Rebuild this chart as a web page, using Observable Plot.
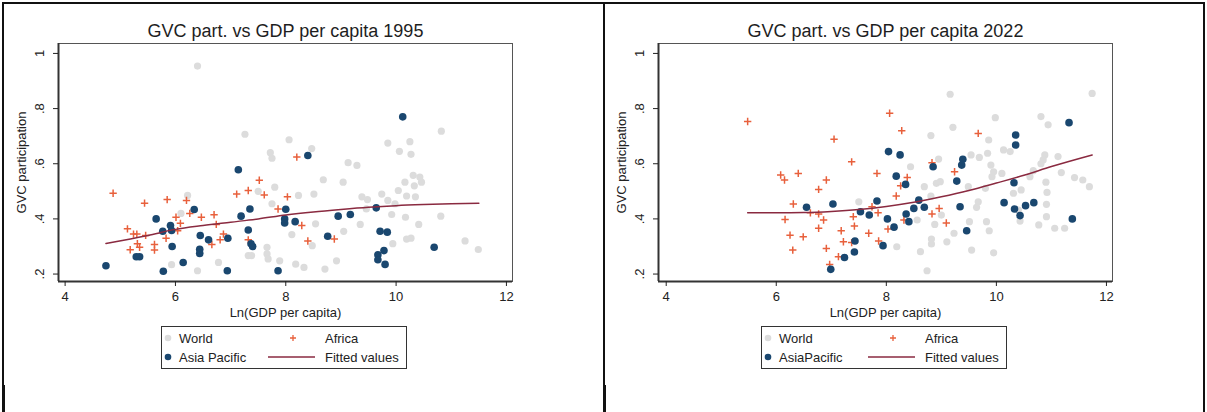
<!DOCTYPE html>
<html><head><meta charset="utf-8">
<script src="https://cdn.jsdelivr.net/npm/d3@7"></script>
<script src="https://cdn.jsdelivr.net/npm/@observablehq/plot@0.6"></script>
<style>
body{margin:0;background:#fff;font-family:"Liberation Sans",Arial,sans-serif;}
#page{position:relative;width:1207px;height:412px;overflow:hidden;background:#fff;}
.panel{position:absolute;top:0;width:600px;height:412px;}
.panel svg.plotsvg{position:absolute;left:0;top:0;}
.legend{position:absolute;left:161px;top:326px;width:244px;height:41px;border:1px solid #333;font-size:13px;color:#222;background:#fff;}
.item{position:absolute;white-space:nowrap;line-height:15px;height:15px;}
.sym{position:absolute;}
.rule{position:absolute;background:#111;}
</style></head><body><div id="page"></div>
<script>
// ---------- shared axis data ----------
const xTicks = [4, 6, 8, 10, 12];
const yTicks = [0.2, 0.4, 0.6, 0.8, 1];
const yTickLabels = [".2", ".4", ".6", ".8", "1"];
const xTitle = "Ln(GDP per capita)";
const yTitle = "GVC participation";
const legendLabels1995 = ["World", "Africa", "Asia Pacific", "Fitted values"];
const legendLabels2022 = ["World", "Africa", "AsiaPacific", "Fitted values"];
const titles = ["GVC part. vs GDP per capita 1995", "GVC part. vs GDP per capita 2022"];

// ---------- 1995 ----------
const world1995X = [6.4,7.26,7.72,7.75,8.06,7.80,7.75,6.22,6.1,6.78,6.4,5.93,7.32,7.38,7.66,7.66,7.68,7.89,7.5,8.47,9.85,10.06,10.25,10.27,10.82,9.13,9.29,8.68,9.04,8.51,8.23,9.38,9.48,9.74,10.04,10.16,10.31,10.43,10.46,10.33,10.19,10.35,9.85,9.98,9.92,8.54,9.35,10.17,10.41,10.81,8.11,9.05,8.48,9.94,10.19,10.27,11.25,11.49,8.92,8.18,8.33,8.71,9.46];
const world1995Y = [0.954,0.707,0.64,0.62,0.687,0.515,0.455,0.485,0.42,0.242,0.212,0.234,0.267,0.267,0.297,0.273,0.255,0.248,0.5,0.655,0.675,0.645,0.68,0.634,0.718,0.604,0.594,0.542,0.533,0.49,0.485,0.48,0.47,0.49,0.503,0.533,0.558,0.552,0.533,0.52,0.483,0.48,0.467,0.455,0.416,0.382,0.38,0.406,0.38,0.41,0.343,0.355,0.303,0.31,0.327,0.33,0.32,0.289,0.248,0.236,0.224,0.218,0.436];
const africa1995X = [4.87,5.13,5.24,5.30,5.46,5.31,5.18,5.35,5.44,5.62,5.62,5.85,5.83,6.01,6.09,6.04,6.2,6.26,6.47,6.70,6.74,6.66,6.81,6.87,7.11,7.32,7.52,7.61,7.32,7.86,8.03,8.2,8.29,8.40,8.88];
const africa1995Y = [0.493,0.364,0.345,0.345,0.34,0.31,0.288,0.297,0.457,0.307,0.287,0.47,0.33,0.406,0.384,0.357,0.467,0.42,0.406,0.415,0.38,0.307,0.324,0.345,0.49,0.503,0.54,0.487,0.324,0.436,0.48,0.624,0.376,0.32,0.327];
const asia1995X = [4.74,5.29,5.35,5.65,5.78,5.77,5.91,5.93,5.94,6.14,6.34,6.45,6.44,6.44,6.6,6.95,6.94,7.14,7.19,7.35,7.32,7.37,7.4,7.86,8.0,7.98,7.98,8.17,8.4,8.76,8.95,9.17,9.64,9.71,9.84,9.78,9.67,9.67,9.8,10.12,10.69];
const asia1995Y = [0.23,0.263,0.263,0.40,0.21,0.355,0.376,0.358,0.30,0.242,0.434,0.34,0.29,0.275,0.324,0.33,0.212,0.578,0.41,0.436,0.36,0.31,0.30,0.212,0.435,0.40,0.385,0.39,0.63,0.337,0.41,0.416,0.44,0.355,0.352,0.285,0.27,0.252,0.235,0.77,0.297];
const fit1995X = [4.74,5.5,6,6.5,7,7.5,8,8.5,9,9.5,10,10.5,11,11.5];
const fit1995Y = [0.311,0.34,0.362,0.376,0.388,0.40,0.414,0.425,0.434,0.442,0.448,0.452,0.455,0.457];

// ---------- 2022 ----------
const world2022X = [9.16,11.74,9.98,10.81,10.94,9.21,8.81,9.86,9.54,9.69,9.84,10.13,10.25,10.88,11.12,10.85,10.81,11.42,11.57,11.69,11.18,8.95,8.44,9.9,9.95,9.92,10.1,8.91,8.98,8.69,9.49,10.31,10.67,10.61,10.9,10.92,10.45,9.8,8.81,9.67,9.64,10.91,10.4,10.43,10.91,9.0,8.88,8.56,9.51,9.82,9.87,10.77,11.06,11.24,9.23,8.82,8.82,9.1,8.19,8.62,9.55,9.95,8.74,7.5];
const world2022Y = [0.852,0.855,0.767,0.771,0.741,0.732,0.702,0.686,0.632,0.623,0.638,0.65,0.644,0.632,0.626,0.614,0.60,0.55,0.541,0.517,0.568,0.617,0.589,0.595,0.571,0.553,0.565,0.529,0.535,0.517,0.517,0.493,0.575,0.553,0.533,0.496,0.505,0.511,0.483,0.462,0.442,0.453,0.432,0.392,0.408,0.414,0.38,0.396,0.39,0.39,0.357,0.378,0.366,0.366,0.348,0.327,0.309,0.317,0.299,0.281,0.287,0.277,0.212,0.462];
const africa2022X = [5.48,7.05,7.37,6.08,6.15,6.4,6.91,6.77,7.83,6.31,6.62,6.77,6.16,6.86,6.77,6.25,6.49,6.3,6.91,7.18,7.22,7.37,7.40,7.42,7.13,6.97,7.68,7.74,7.85,7.86,8.03,8.06,8.28,9.67,8.83,9.24,8.38,8.26,8.18,8.96,8.83,9.09,8.32];
const africa2022Y = [0.753,0.689,0.607,0.559,0.541,0.565,0.541,0.507,0.565,0.454,0.422,0.418,0.398,0.396,0.366,0.341,0.335,0.287,0.293,0.357,0.317,0.314,0.408,0.374,0.263,0.235,0.348,0.444,0.422,0.32,0.363,0.783,0.72,0.71,0.604,0.571,0.55,0.52,0.483,0.438,0.418,0.385,0.396];
const asia2022X = [6.55,7.03,7.53,7.69,7.83,8.02,8.04,7.43,7.42,7.24,6.99,7.94,8.25,8.18,8.35,8.85,9.39,9.37,9.28,10.35,10.35,11.32,10.32,8.59,8.5,8.69,8.36,8.41,8.14,9.34,9.46,10.14,10.33,10.43,10.53,10.68,11.38];
const asia2022Y = [0.442,0.454,0.426,0.414,0.465,0.40,0.644,0.32,0.28,0.26,0.217,0.303,0.632,0.555,0.525,0.589,0.616,0.595,0.537,0.704,0.668,0.749,0.531,0.468,0.438,0.442,0.418,0.39,0.37,0.444,0.357,0.459,0.436,0.412,0.448,0.459,0.40];
const fit2022X = [5.48,6,6.5,7,7.5,8,8.5,9,9.5,10,10.5,11,11.74];
const fit2022Y = [0.422,0.422,0.423,0.427,0.434,0.445,0.46,0.48,0.503,0.53,0.558,0.59,0.632];

// ---------- styles ----------
const colWorld = "#dcdcdc";
const colAfrica = "#e8603c";
const colAsia = "#1a476f";
const colFit = "#8a2a40";
const font = '"Liberation Sans", Arial, sans-serif';

const zip = (xs, ys) => xs.map((x, i) => ({x, y: ys[i]}));
const page = document.getElementById("page");

function rule(l, t, w, h) {
  const d = document.createElement("div");
  d.className = "rule";
  Object.assign(d.style, {left: l + "px", top: t + "px", width: w + "px", height: h + "px"});
  page.appendChild(d);
}

function legendBox(labels) {
  const box = document.createElement("div");
  box.className = "legend";
  const ns = "http://www.w3.org/2000/svg";
  function sym(left, top, w, h, inner) {
    const s = document.createElementNS(ns, "svg");
    s.setAttribute("class", "sym");
    s.setAttribute("width", w); s.setAttribute("height", h);
    s.style.left = left + "px"; s.style.top = top + "px";
    s.innerHTML = inner;
    box.appendChild(s);
  }
  function txt(left, top, t) {
    const d = document.createElement("div");
    d.className = "item"; d.style.left = left + "px"; d.style.top = top + "px";
    d.textContent = t; box.appendChild(d);
  }
  sym(1, 6, 10, 10, `<circle cx="5" cy="5" r="3.3" fill="${colWorld}"/>`);
  txt(17, 4, labels[0]);
  sym(125, 6, 12, 10, `<path d="M6,2V8M3,5H9" stroke="${colAfrica}" stroke-width="1.3"/>`);
  txt(163, 4, labels[1]);
  sym(1, 25, 10, 10, `<circle cx="5" cy="5" r="3.3" fill="${colAsia}"/>`);
  txt(17, 23, labels[2]);
  sym(105, 25, 50, 10, `<line x1="1" y1="5" x2="48" y2="5" stroke="${colFit}" stroke-width="1.5"/>`);
  txt(163, 23, labels[3]);
  return box;
}

function panel(left, title, xDomain, wX, wY, aX, aY, pX, pY, fX, fY, labels) {
  const yDomain = [0.173, 1.036];
  const div = document.createElement("div");
  div.className = "panel";
  div.style.left = left + "px";
  const chart = Plot.plot({
    width: 600, height: 330,
    marginLeft: 58, marginRight: 88, marginTop: 43, marginBottom: 49,
    style: {fontFamily: font, fontSize: "13px", color: "#222", background: "transparent"},
    x: {domain: xDomain},
    y: {domain: yDomain},
    marks: [
      Plot.frame({stroke: "#555", strokeWidth: 1}),
      Plot.ruleX([xDomain[0]], {stroke: "#333", strokeWidth: 2}),
      Plot.ruleY([yDomain[0]], {stroke: "#333", strokeWidth: 2}),
      Plot.axisX({ticks: xTicks, tickSize: 5, tickPadding: 5, tickFormat: d => String(d), label: null}),
      Plot.axisY({ticks: yTicks, tickSize: 5, tickFormat: () => "", label: null}),
      Plot.text(yTicks, {y: d => d, text: (d, i) => yTickLabels[i], frameAnchor: "left", dx: -19, rotate: -90, textAnchor: "middle", lineAnchor: "middle", fill: "#222"}),
      Plot.text([yTitle], {text: d => d, frameAnchor: "left", dx: -37, rotate: -90, textAnchor: "middle", lineAnchor: "middle", fill: "#222"}),
      Plot.text([xTitle], {text: d => d, frameAnchor: "bottom", dy: 31, lineAnchor: "middle", fill: "#222"}),
      Plot.text([title], {text: d => d, frameAnchor: "top", dy: -12, lineAnchor: "middle", fontSize: 18, fill: "#1e1e1e"}),
      Plot.dot(zip(wX, wY), {x: "x", y: "y", r: 3.6, fill: colWorld}),
      Plot.dot(zip(aX, aY), {x: "x", y: "y", symbol: "plus", r: 2.5, stroke: colAfrica, strokeWidth: 1.5}),
      Plot.dot(zip(pX, pY), {x: "x", y: "y", r: 3.8, fill: colAsia}),
      Plot.line(zip(fX, fY), {x: "x", y: "y", stroke: colFit, strokeWidth: 1.5, curve: "monotone-x"})
    ]
  });
  chart.classList.add("plotsvg");
  div.appendChild(chart);
  div.appendChild(legendBox(labels));
  page.appendChild(div);
}

panel(0, titles[0], [3.88, 12.11], world1995X, world1995Y, africa1995X, africa1995Y, asia1995X, asia1995Y, fit1995X, fit1995Y, legendLabels1995);
panel(600, titles[1], [3.86, 12.11], world2022X, world2022Y, africa2022X, africa2022Y, asia2022X, asia2022Y, fit2022X, fit2022Y, legendLabels2022);

// table borders
rule(2, 2, 1203, 2);
rule(2, 2, 2, 410);
rule(603, 2, 2, 410);
rule(1203, 2, 2, 410);
rule(3, 385, 2, 27);
rule(604, 385, 2, 27);
</script></body></html>
